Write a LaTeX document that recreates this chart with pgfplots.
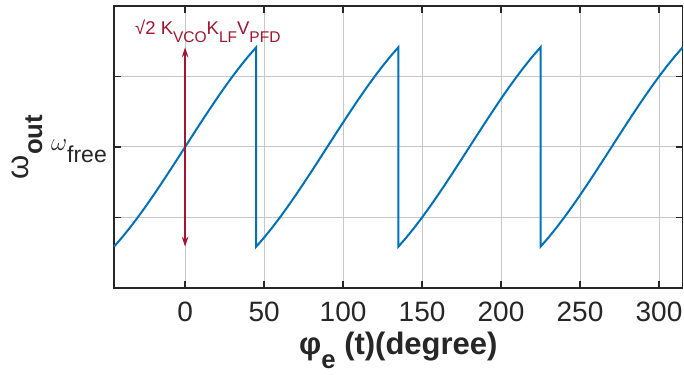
\documentclass[border=0pt]{standalone}
\usepackage{pgfplots}
\pgfplotsset{compat=1.18}
\usepackage{pgfplotstable}
\usepackage{fontspec}
\setmainfont{Liberation Sans}
\usetikzlibrary{arrows.meta}

\definecolor{lineblue}{rgb}{0,0.447,0.741}
\definecolor{arrowred}{rgb}{0.635,0.078,0.184}
\definecolor{axisgray}{rgb}{0.15,0.15,0.15}

% VCO output frequency (normalised) against phase error, one branch per 90 degrees
\pgfplotstableread{
phi w
-45 -1.4142
-40 -1.2856
-35 -1.1472
-30 -1.0000
-25 -0.8452
-20 -0.6840
-15 -0.5176
-10 -0.3473
-5 -0.1743
0 0
5 0.1743
10 0.3473
15 0.5176
20 0.6840
25 0.8452
30 1.0000
35 1.1472
40 1.2856
45 1.4142
45 -1.4142
50 -1.2856
55 -1.1472
60 -1.0000
65 -0.8452
70 -0.6840
75 -0.5176
80 -0.3473
85 -0.1743
90 0
95 0.1743
100 0.3473
105 0.5176
110 0.6840
115 0.8452
120 1.0000
125 1.1472
130 1.2856
135 1.4142
135 -1.4142
140 -1.2856
145 -1.1472
150 -1.0000
155 -0.8452
160 -0.6840
165 -0.5176
170 -0.3473
175 -0.1743
180 0
185 0.1743
190 0.3473
195 0.5176
200 0.6840
205 0.8452
210 1.0000
215 1.1472
220 1.2856
225 1.4142
225 -1.4142
230 -1.2856
235 -1.1472
240 -1.0000
245 -0.8452
250 -0.6840
255 -0.5176
260 -0.3473
265 -0.1743
270 0
275 0.1743
280 0.3473
285 0.5176
290 0.6840
295 0.8452
300 1.0000
305 1.1472
310 1.2856
315 1.4142
}\wout

\begin{document}
\begin{tikzpicture}
\begin{axis}[
  scale only axis,
  width=568.7pt, height=282pt,
  xmin=-45, xmax=315, ymin=-2, ymax=2,
  xtick={0,50,...,300},
  ytick={-1,0,1}, yticklabels={},
  tick align=inside,
  major tick length=7pt,
  grid=major,
  grid style={black!22, line width=1pt},
  axis line style={axisgray, line width=1.4pt},
  tick style={axisgray, line width=1.4pt},
  /pgf/number format/assume math mode=true,
  xticklabel style={font=\fontsize{28}{28}\selectfont, text=axisgray, inner sep=0pt, yshift=-14pt},
  xlabel={φ\raisebox{-14pt}{\fontsize{25.7}{25.7}\selectfont e} (t)(degree)},
  xlabel style={at={(axis description cs:0.5,-0.2376)}, anchor=base,
    font=\bfseries\fontsize{31}{31}\selectfont, text=axisgray},
  ylabel={ω\raisebox{-14pt}{\bfseries\fontsize{25.7}{25.7}\selectfont out}},
  ylabel style={at={(axis description cs:-0.1512,0.5)}, anchor=base, rotate=0,
    font=\fontsize{31}{31}\selectfont, text=axisgray},
  clip=false,
]
\addplot[lineblue, line width=2pt] table[x=phi, y=w] {\wout};
\addplot[arrowred, line width=1.5pt,
  {Stealth[length=10pt,width=6.5pt]}-{Stealth[length=10pt,width=6.5pt]}]
  coordinates {(0,-1.4142) (0,1.4142)};
\node[text=arrowred, anchor=base, inner sep=0pt, font=\fontsize{18.5}{18.5}\selectfont]
  at (axis cs:14.4,1.59)
  {√2 K\raisebox{-8pt}{\fontsize{15.5}{15.5}\selectfont VCO}K\raisebox{-8pt}{\fontsize{15.5}{15.5}\selectfont LF}V\raisebox{-8pt}{\fontsize{15.5}{15.5}\selectfont PFD}};
\node[anchor=base east, inner sep=0pt, text=axisgray, font=\fontsize{28}{28}\selectfont]
  at ([xshift=-7pt,yshift=-3.4pt]axis cs:-45,0)
  {$\omega$\raisebox{-12.4pt}{\fontsize{23}{23}\selectfont free}};
\end{axis}
\pgfresetboundingbox
\path ([xshift=-114pt,yshift=-87pt]current axis.south west)
  rectangle ([xshift=1.3pt,yshift=6pt]current axis.north east);
\end{tikzpicture}
\end{document}
